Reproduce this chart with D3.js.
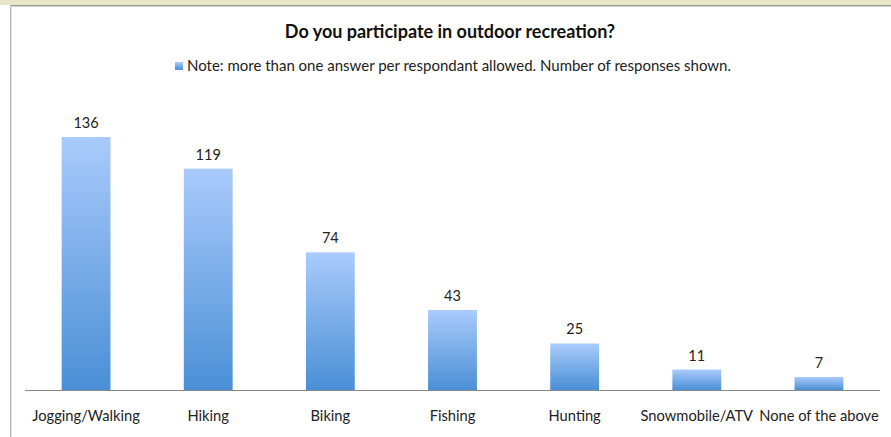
<!DOCTYPE html>
<html><head><meta charset="utf-8">
<script src="https://cdn.jsdelivr.net/npm/d3@7"></script>
<style>body{margin:0;background:#fff;}svg{display:block;font-family:Lato,"Open Sans",sans-serif;}</style>
</head><body>
<svg id="c" width="891" height="437"></svg>
<script>
const categories = ["Jogging/Walking","Hiking","Biking","Fishing","Hunting","Snowmobile/ATV","None of the above"];
const responses = [136,119,74,43,25,11,7];
const title = "Do you participate in outdoor recreation?";
const legendLabel = "Note: more than one answer per respondant allowed. Number of responses shown.";

const svg = d3.select("#c");
// page strip and panel frame
svg.append("rect").attr("x",0).attr("y",0).attr("width",891).attr("height",5).attr("fill","#e6e6c6");
svg.append("rect").attr("x",0).attr("y",5).attr("width",891).attr("height",432).attr("fill","#fff");
svg.append("line").attr("x1",10).attr("x2",891).attr("y1",5.5).attr("y2",5.5).attr("stroke","#9a9a9a");
svg.append("line").attr("x1",10).attr("x2",891).attr("y1",6.5).attr("y2",6.5).attr("stroke","#d0d0d0");
svg.append("line").attr("x1",10.5).attr("x2",10.5).attr("y1",5).attr("y2",437).attr("stroke","#b8b8b8");
svg.append("line").attr("x1",11.5).attr("x2",11.5).attr("y1",6).attr("y2",437).attr("stroke","#e0e0e0");

const defs = svg.append("defs");
const g = defs.append("linearGradient").attr("id","bar").attr("x1",0).attr("y1",0).attr("x2",0).attr("y2",1);
g.append("stop").attr("offset","0%").attr("stop-color","#a9cbfb");
g.append("stop").attr("offset","100%").attr("stop-color","#4a8fd6");

const x = d3.scaleBand().domain(categories).range([25,880]).paddingInner(0.6).paddingOuter(0.3);
const y = d3.scaleLinear().domain([0,136]).range([390,137]);

svg.append("text").attr("x",450).attr("y",37.5).attr("text-anchor","middle")
  .attr("font-weight","bold").attr("font-size",18).attr("fill","#111").text(title);

svg.append("rect").attr("x",175).attr("y",62).attr("width",8).attr("height",8).attr("fill","url(#bar)");
svg.append("text").attr("x",187).attr("y",71).attr("font-size",15).attr("fill","#222").text(legendLabel);

svg.selectAll("rect.bar").data(responses).join("rect").attr("class","bar")
  .attr("x",(d,i)=>x(categories[i])).attr("width",x.bandwidth())
  .attr("y",d=>y(d)).attr("height",d=>y(0)-y(d)).attr("fill","url(#bar)");

svg.selectAll("text.val").data(responses).join("text").attr("class","val")
  .attr("x",(d,i)=>x(categories[i])+x.bandwidth()/2).attr("y",d=>y(d)-9)
  .attr("text-anchor","middle").attr("font-size",14.5).attr("fill","#222").text(d=>d);

const ax = svg.append("g").attr("transform","translate(0,390)").call(d3.axisBottom(x).tickSize(0).tickPadding(21));
ax.select(".domain").attr("stroke","#888").attr("d","M25,0.5H880");
ax.selectAll("text").attr("font-family","Lato,'Open Sans',sans-serif").attr("font-size",14.7).attr("fill","#222");
</script>
</body></html>
